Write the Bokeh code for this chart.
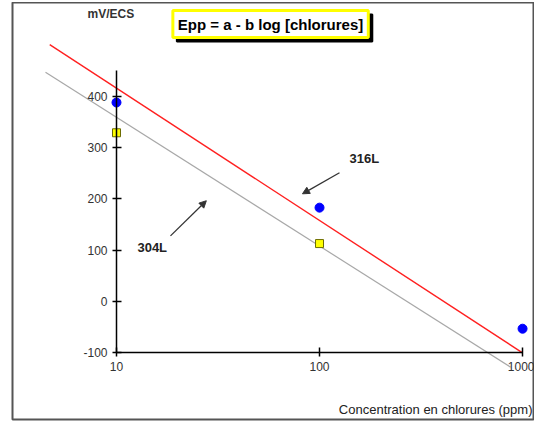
from bokeh.plotting import figure
from bokeh.models import Range1d, FixedTicker, Label, Arrow, NormalHead, PrintfTickFormatter
from bokeh.embed import file_html
from bokeh.resources import INLINE

# --- data ---
conc_316 = [10, 100, 1000]
epp_316 = [388, 183, -53]
conc_304 = [10, 100]
epp_304 = [329, 113]
fit_316_conc = [4.69, 1000]
fit_316_epp = [501, -100]
fit_304_conc = [4.47, 873]
fit_304_epp = [447, -128]
x_ticks = [10, 100, 1000]
y_ticks = [-100, 0, 100, 200, 300, 400]

FONT = "Liberation Sans"

p = figure(width=526, height=419, x_axis_type="log",
           x_range=Range1d(3.075, 1145), y_range=Range1d(-230, 583),
           output_backend="svg", toolbar_location=None,
           min_border_left=4, min_border_right=0, min_border_top=0, min_border_bottom=2)
p.styles = {"margin-top": "2px", "margin-left": "8px"}
p.grid.visible = False
p.outline_line_color = "#555555"
p.outline_line_width = 2
p.background_fill_color = "white"
p.border_fill_color = "white"

# axes crossing at (10, -100)
xa = p.xaxis[0]
xa.fixed_location = -100
xa.bounds = (10, 1000)
xa.ticker = FixedTicker(ticks=x_ticks)
ya = p.yaxis[0]
ya.fixed_location = 10
ya.bounds = (-100, 450)
ya.ticker = FixedTicker(ticks=y_ticks)
for ax in (xa, ya):
    ax.formatter = PrintfTickFormatter(format="%d")
    ax.minor_tick_line_color = None
    ax.major_tick_in = 5
    ax.major_tick_out = 4
    ax.axis_line_color = "black"
    ax.axis_line_width = 1.5
    ax.major_tick_line_color = "black"
    ax.major_tick_line_width = 1.5
    ax.major_label_text_font = FONT
    ax.major_label_text_font_size = "12px"
    ax.major_label_text_color = "#333333"
xa.major_label_standoff = 5
ya.major_label_standoff = 5

# fitted lines
p.line(fit_304_conc, fit_304_epp, line_color="#a8a8a8", line_width=1.2)
p.line(fit_316_conc, fit_316_epp, line_color="#ff2020", line_width=1.4)

# measured points
p.scatter(conc_316, epp_316, marker="circle", size=9, fill_color="#0000ff", line_color="#0000ff")
p.scatter(conc_304, epp_304, marker="square", size=8, fill_color="#ffff00", line_color="#6b6b00", line_width=1)

# texts
p.add_layout(Label(x=7.2, y=560, text="mV/ECS", text_font=FONT, text_font_size="12px",
                   text_font_style="bold", text_color="#333333", text_baseline="middle"))
p.add_layout(Label(x=1119, y=-210, text="Concentration en chlorures (ppm)", text_font=FONT,
                   text_font_size="13px", text_color="#222222", text_align="right",
                   text_baseline="middle"))
p.add_layout(Label(x=140.6, y=278, text="316L", text_font=FONT, text_font_size="13px",
                   text_font_style="bold", text_color="#222222", text_baseline="middle"))
p.add_layout(Label(x=12.68, y=105, text="304L", text_font=FONT, text_font_size="13px",
                   text_font_style="bold", text_color="#222222", text_baseline="middle"))

eq = "Epp = a - b log [chlorures]"
p.add_layout(Label(x=57.4, y=541, x_offset=4, y_offset=-4, text=eq, text_font=FONT,
                   text_font_size="15px", text_font_style="bold", text_color="black",
                   text_align="center", text_baseline="middle", padding=5,
                   background_fill_color="black", border_line_color="black", border_line_width=2))
p.add_layout(Label(x=57.4, y=541, text=eq, text_font=FONT,
                   text_font_size="15px", text_font_style="bold", text_color="black",
                   text_align="center", text_baseline="middle", padding=5,
                   background_fill_color="white", border_line_color="#ffff00", border_line_width=3))

# arrows
p.add_layout(Arrow(end=NormalHead(size=7, fill_color="#333333", line_color="#333333"),
                   x_start=125.4, y_start=251, x_end=82.4, y_end=210,
                   line_color="#333333", line_width=1.3))
p.add_layout(Arrow(end=NormalHead(size=7, fill_color="#333333", line_color="#333333"),
                   x_start=18.45, y_start=128, x_end=27.7, y_end=196.5,
                   line_color="#333333", line_width=1.3))

open("out.html", "w").write(file_html(p, INLINE))
